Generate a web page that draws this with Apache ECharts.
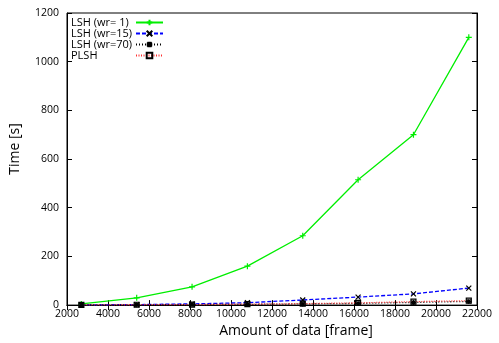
<!DOCTYPE html>
<html>
<head>
<meta charset="utf-8">
<script src="https://cdn.jsdelivr.net/npm/echarts@6/dist/echarts.min.js"></script>
<style>
  html, body { margin: 0; padding: 0; background: #fff; }
  #chart { width: 499px; height: 343px; }
</style>
</head>
<body>
<div id="chart"></div>
<script>
// amount of data [frame]
var frames = [2700, 5400, 8100, 10800, 13500, 16200, 18900, 21600];
var lshWr1 = [5, 30, 75, 160, 285, 515, 700, 1100];
var lshWr15 = [1, 2, 5, 10, 21, 33, 46, 70];
var lshWr70 = [0.5, 1, 2, 3, 5, 7, 11, 15];
var plsh = [1, 1.5, 2, 4, 6, 9, 14, 18];
var seriesNames = ['LSH (wr= 1)', 'LSH (wr=15)', 'LSH (wr=70)', 'PLSH'];

var FONT = 'Open Sans';
var plus = 'path://M0,5L10,5M5,0L5,10';
var cross = 'path://M0,0L10,10M10,0L0,10';
var star = 'path://M0,5L10,5M5,0L5,10M1,1L9,9M9,1L1,9';

function pairs(ys) {
  return frames.map(function (x, i) { return [x, ys[i]]; });
}

function mkSeries(name, ys, color, lineType, lineWidth, symbol, symColor, symSize) {
  return {
    name: name,
    type: 'line',
    data: pairs(ys),
    symbol: symbol,
    symbolSize: symSize,
    showAllSymbol: true,
    lineStyle: { color: color, width: lineWidth, type: lineType },
    itemStyle: { color: 'none', borderColor: symColor, borderWidth: 1.2 },
    emphasis: { disabled: true },
    animation: false
  };
}

var chart = echarts.init(document.getElementById('chart'));

var axisCommon = {
  axisLine: { lineStyle: { color: '#000', width: 1 } },
  axisTick: { inside: true, length: 5, lineStyle: { color: '#000' } },
  splitLine: { show: false }
};

chart.setOption({
  animation: false,
  grid: { left: 62, right: 22, top: 13, bottom: 30, show: true, borderColor: '#000', borderWidth: 1 },
  legend: {
    orient: 'vertical',
    left: 71,
    top: 17,
    align: 'right',
    itemWidth: 27,
    itemHeight: 7,
    itemGap: 0,
    padding: 0,
    formatter: function (n) { return '{t|' + n + '}'; },
    textStyle: {
      fontFamily: FONT, fontSize: 11, color: '#000',
      rich: { t: { fontFamily: FONT, fontSize: 11, color: '#000', width: 60, align: 'left', lineHeight: 11 } }
    },
    data: seriesNames
  },
  xAxis: [
    Object.assign({
      type: 'value', min: 2000, max: 22000, interval: 2000,
      name: 'Amount of data [frame]', nameLocation: 'middle', nameGap: 13,
      nameTextStyle: { fontFamily: FONT, fontSize: 14, color: '#000', padding: [0, 0, 0, 48] },
      axisLabel: { fontFamily: FONT, fontSize: 10.5, color: '#000', margin: 3, formatter: function (v) { return String(v); } }
    }, axisCommon),
    Object.assign({
      type: 'value', min: 2000, max: 22000, interval: 2000, position: 'top',
      axisLabel: { show: false }
    }, axisCommon)
  ],
  yAxis: [
    Object.assign({
      type: 'value', min: 0, max: 1200, interval: 200,
      name: 'Time [s]', nameLocation: 'middle', nameGap: 45,
      nameTextStyle: { fontFamily: FONT, fontSize: 14, color: '#000', padding: [0, 0, 0, 20] },
      axisLabel: { fontFamily: FONT, fontSize: 10.5, color: '#000', margin: 8, formatter: function (v) { return String(v); } }
    }, axisCommon),
    Object.assign({
      type: 'value', min: 0, max: 1200, interval: 200, position: 'right',
      axisLabel: { show: false }
    }, axisCommon)
  ],
  series: [
    mkSeries(seriesNames[0], lshWr1, '#00ee00', 'solid', 1.3, plus, '#00ee00', 6),
    mkSeries(seriesNames[1], lshWr15, '#0000ff', [4, 2], 1.3, cross, '#000', 5),
    mkSeries(seriesNames[2], lshWr70, '#000', [1, 2], 1.3, star, '#000', 5),
    mkSeries(seriesNames[3], plsh, '#ff3030', [1, 1.5], 1.3, 'rect', '#000', 5)
  ]
});
</script>
</body>
</html>
